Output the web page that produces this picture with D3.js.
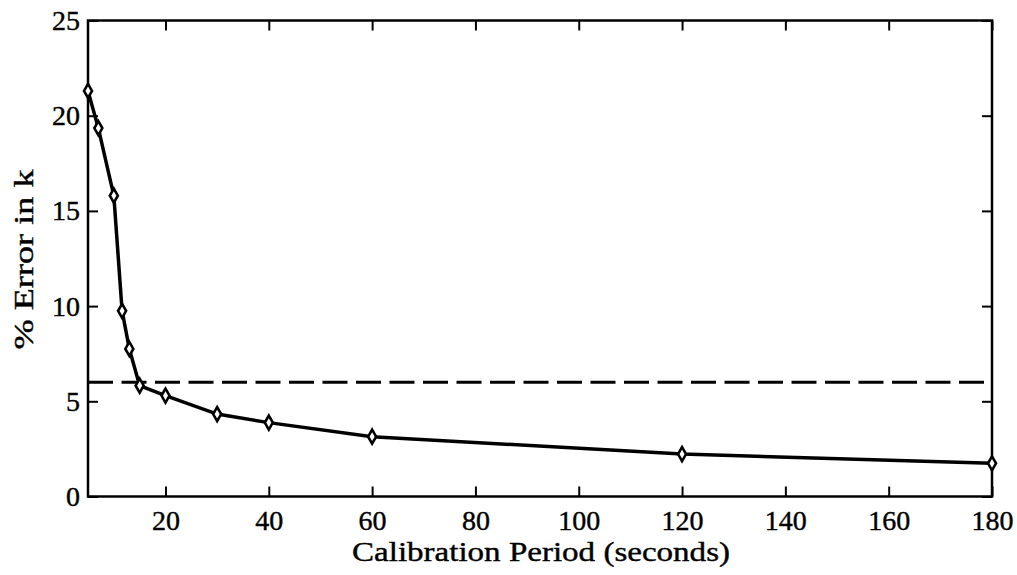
<!DOCTYPE html>
<html><head><meta charset="utf-8">
<script src="https://cdn.jsdelivr.net/npm/d3@7"></script>
<style>
body{margin:0;background:#fff}
</style>
</head><body>
<svg id="c" width="1017" height="575"></svg>
<script>
// ---- data ----
const periods = [5, 7, 10, 11.6, 13, 15, 20, 30, 40, 60, 120, 180];
const errors  = [21.3, 19.35, 15.8, 9.75, 7.75, 5.82, 5.3, 4.33, 3.88, 3.14, 2.23, 1.74];
const threshold = 6;
const xTicks = [20, 40, 60, 80, 100, 120, 140, 160, 180];
const yTicks = [0, 5, 10, 15, 20, 25];
const xLabel = "Calibration Period (seconds)";
const yLabel = "% Error in k";

// ---- layout ----
const FONT = "Liberation Serif";
const L = 88, R = 992, T = 20.5, B = 496.5;
const svg = d3.select("#c");
const x = d3.scaleLinear().domain([5, 180]).range([L, R]);
const y = d3.scaleLinear().domain([0, 25]).range([B, T]);

function styleAxis(g){
  g.attr("font-family", FONT);
  g.select(".domain").remove();
  g.selectAll(".tick line").attr("stroke", "#000").attr("stroke-width", 2);
  g.selectAll(".tick text").attr("font-family", FONT).attr("font-size", 28)
    .attr("fill", "#000").attr("stroke", "#000").attr("stroke-width", 0.4);
}

svg.append("g").attr("transform", `translate(0,${B})`)
  .call(d3.axisBottom(x).tickValues(xTicks).tickSize(-10).tickPadding(14))
  .call(styleAxis);
svg.append("g").attr("transform", `translate(0,${T})`)
  .call(d3.axisTop(x).tickValues(xTicks).tickSize(-10).tickFormat(""))
  .call(styleAxis);
svg.append("g").attr("transform", `translate(${L},0)`)
  .call(d3.axisLeft(y).tickValues(yTicks).tickSize(-10).tickPadding(8))
  .call(styleAxis);
svg.append("g").attr("transform", `translate(${R},0)`)
  .call(d3.axisRight(y).tickValues(yTicks).tickSize(-10).tickFormat(""))
  .call(styleAxis);

// box
svg.append("rect").attr("x", L).attr("y", T).attr("width", R - L).attr("height", B - T)
  .attr("fill", "none").attr("stroke", "#000").attr("stroke-width", 2.5);

// threshold dashed line
svg.append("line").attr("x1", L).attr("x2", R).attr("y1", y(threshold)).attr("y2", y(threshold))
  .attr("stroke", "#000").attr("stroke-width", 2.8).attr("stroke-dasharray", "25,8.5");

// data line
const pts = periods.map((p, i) => [p, errors[i]]);
svg.append("path").datum(pts)
  .attr("d", d3.line().x(d => x(d[0])).y(d => y(d[1])))
  .attr("fill", "none").attr("stroke", "#000").attr("stroke-width", 3.5);

// diamond markers
svg.selectAll("path.m").data(pts).join("path").attr("class", "m")
  .attr("d", d => { const cx = x(d[0]), cy = y(d[1]); return `M${cx},${cy-7}L${cx+4},${cy}L${cx},${cy+7}L${cx-4},${cy}Z`; })
  .attr("fill", "#fff").attr("stroke", "#000").attr("stroke-width", 2.6);

// axis labels
svg.append("text").attr("x", (352 + 730) / 2).attr("y", 561).attr("text-anchor", "middle")
  .attr("font-family", FONT).attr("font-size", 28).attr("stroke", "#000").attr("stroke-width", 0.4)
  .attr("textLength", 378).attr("lengthAdjust", "spacingAndGlyphs").text(xLabel);
svg.append("text").attr("transform", `translate(33,${(172 + 347) / 2}) rotate(-90)`).attr("text-anchor", "middle")
  .attr("font-family", FONT).attr("font-size", 28).attr("stroke", "#000").attr("stroke-width", 0.4)
  .attr("textLength", 180).attr("lengthAdjust", "spacingAndGlyphs").text(yLabel);
</script>
</body></html>
